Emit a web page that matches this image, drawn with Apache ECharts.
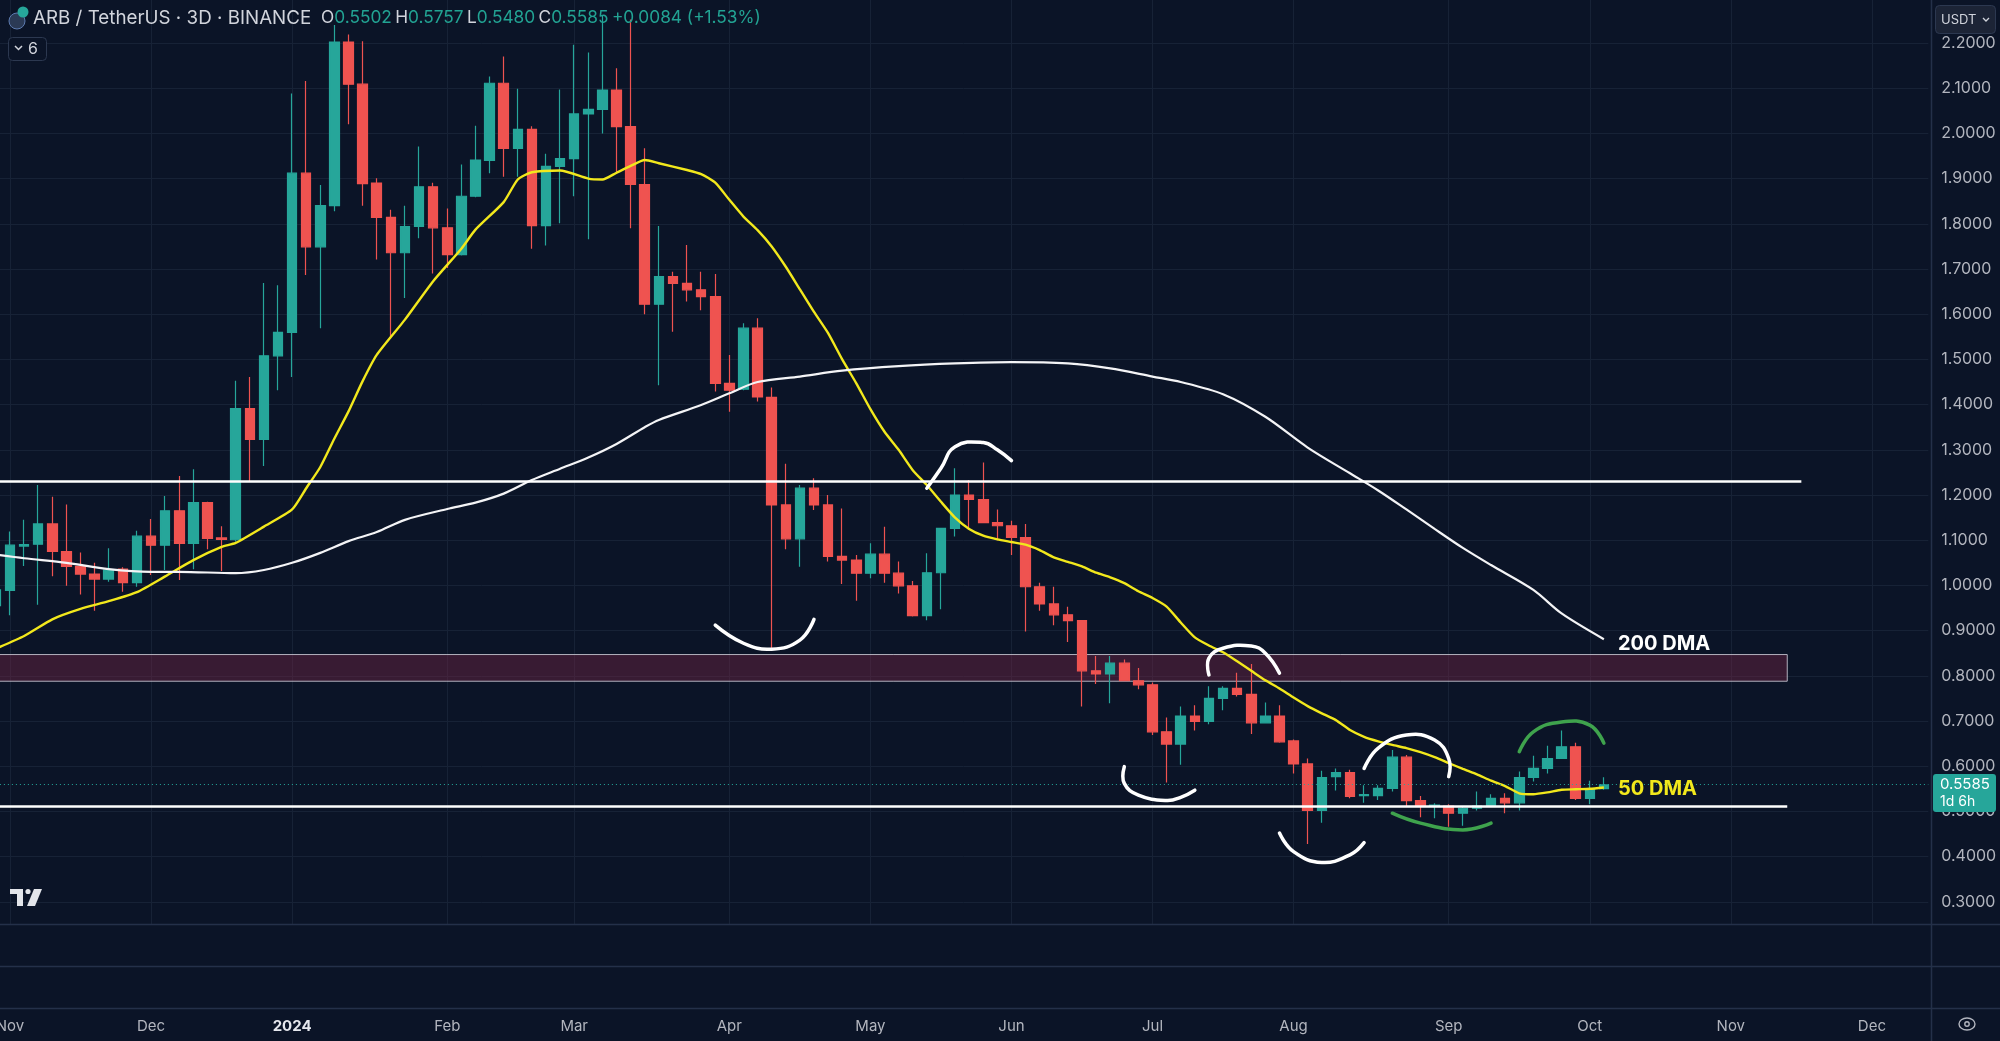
<!DOCTYPE html>
<html>
<head>
<meta charset="utf-8">
<title>ARB / TetherUS 3D</title>
<script src="https://cdn.jsdelivr.net/npm/echarts@6/dist/echarts.min.js"></script>
<style>
  html, body { margin: 0; padding: 0; background: #0b1427; }
  #main { width: 2000px; height: 1041px; }
</style>
</head>
<body>
<div id="main"></div>
<script>
// 3D candles, [open, close, low, high], first one opens 2023-10-30
const candles = [
  [0.955, 0.990, 0.940, 1.000], [0.989, 1.089, 0.934, 1.119], [1.087, 1.090, 1.043, 1.145], [1.091, 1.136, 0.957, 1.222],
  [1.136, 1.075, 1.020, 1.196], [1.075, 1.042, 0.999, 1.179], [1.042, 1.025, 0.980, 1.073], [1.025, 1.014, 0.944, 1.050],
  [1.014, 1.034, 1.008, 1.082], [1.036, 1.006, 0.986, 1.040], [1.006, 1.109, 0.997, 1.121], [1.109, 1.089, 1.023, 1.147],
  [1.089, 1.165, 1.034, 1.198], [1.165, 1.093, 1.012, 1.242], [1.093, 1.183, 1.036, 1.257], [1.183, 1.104, 1.080, 1.185],
  [1.105, 1.102, 1.032, 1.131], [1.101, 1.391, 1.097, 1.453], [1.391, 1.323, 1.230, 1.461], [1.323, 1.508, 1.264, 1.669],
  [1.508, 1.560, 1.432, 1.664], [1.560, 1.912, 1.461, 2.088], [1.912, 1.749, 1.687, 2.116], [1.749, 1.840, 1.569, 1.886],
  [1.840, 2.202, 1.828, 2.240], [2.202, 2.109, 2.020, 2.219], [2.109, 1.889, 1.840, 2.204], [1.890, 1.814, 1.721, 1.901],
  [1.814, 1.736, 1.546, 1.831], [1.736, 1.794, 1.636, 1.840], [1.794, 1.882, 1.768, 1.971], [1.882, 1.791, 1.690, 1.891],
  [1.791, 1.732, 1.702, 1.834], [1.732, 1.861, 1.730, 1.931], [1.861, 1.941, 1.859, 2.017], [1.940, 2.111, 1.912, 2.126],
  [2.111, 1.967, 1.904, 2.170], [1.967, 2.009, 1.904, 2.099], [2.009, 1.796, 1.745, 2.016], [1.796, 1.927, 1.752, 1.955],
  [1.927, 1.944, 1.801, 2.097], [1.944, 2.043, 1.861, 2.196], [2.043, 2.053, 1.766, 2.179], [2.053, 2.096, 2.000, 2.262],
  [2.096, 2.015, 1.910, 2.144], [2.015, 1.887, 1.790, 2.252], [1.887, 1.622, 1.600, 1.967], [1.622, 1.683, 1.443, 1.795],
  [1.683, 1.668, 1.561, 1.694], [1.668, 1.654, 1.628, 1.753], [1.654, 1.639, 1.609, 1.694], [1.639, 1.447, 1.429, 1.689],
  [1.447, 1.432, 1.384, 1.510], [1.434, 1.569, 1.432, 1.580], [1.569, 1.417, 1.407, 1.591], [1.416, 1.178, 0.859, 1.438],
  [1.178, 1.103, 1.080, 1.269], [1.103, 1.215, 1.041, 1.222], [1.215, 1.178, 1.167, 1.237], [1.178, 1.064, 1.053, 1.200],
  [1.064, 1.056, 1.003, 1.170], [1.056, 1.027, 0.966, 1.067], [1.027, 1.069, 1.016, 1.093], [1.069, 1.027, 1.006, 1.130],
  [1.027, 0.999, 0.982, 1.053], [0.999, 0.933, 0.931, 1.010], [0.933, 1.028, 0.923, 1.071], [1.028, 1.126, 0.947, 1.126],
  [1.126, 1.200, 1.108, 1.259], [1.200, 1.190, 1.123, 1.233], [1.190, 1.139, 1.139, 1.272], [1.139, 1.132, 1.100, 1.168],
  [1.132, 1.106, 1.067, 1.143], [1.106, 0.997, 0.898, 1.136], [0.997, 0.959, 0.944, 1.006], [0.959, 0.935, 0.912, 0.997],
  [0.935, 0.922, 0.875, 0.953], [0.922, 0.811, 0.732, 0.922], [0.811, 0.804, 0.782, 0.844], [0.804, 0.828, 0.739, 0.844],
  [0.828, 0.789, 0.789, 0.836], [0.789, 0.780, 0.770, 0.817], [0.780, 0.676, 0.669, 0.785], [0.676, 0.649, 0.564, 0.708],
  [0.649, 0.711, 0.603, 0.732], [0.711, 0.699, 0.679, 0.735], [0.699, 0.750, 0.693, 0.777], [0.750, 0.772, 0.724, 0.777],
  [0.772, 0.759, 0.754, 0.807], [0.759, 0.696, 0.671, 0.826], [0.696, 0.711, 0.696, 0.741], [0.711, 0.654, 0.652, 0.735],
  [0.656, 0.605, 0.584, 0.659], [0.605, 0.502, 0.428, 0.617], [0.502, 0.575, 0.475, 0.590], [0.577, 0.586, 0.546, 0.595],
  [0.586, 0.533, 0.529, 0.592], [0.535, 0.537, 0.519, 0.558], [0.535, 0.551, 0.525, 0.558], [0.551, 0.620, 0.544, 0.636],
  [0.620, 0.524, 0.512, 0.625], [0.524, 0.512, 0.487, 0.534], [0.512, 0.514, 0.485, 0.518], [0.512, 0.496, 0.466, 0.516],
  [0.496, 0.507, 0.468, 0.512], [0.507, 0.512, 0.502, 0.544], [0.512, 0.529, 0.512, 0.538], [0.529, 0.519, 0.496, 0.540],
  [0.519, 0.575, 0.502, 0.588], [0.575, 0.595, 0.566, 0.623], [0.595, 0.617, 0.584, 0.645], [0.617, 0.643, 0.617, 0.679],
  [0.643, 0.529, 0.525, 0.652], [0.529, 0.549, 0.516, 0.568], [0.5502, 0.5585, 0.5480, 0.5757]
];

// moving averages, [candle index, value]
const ma50 = [
  [0, 0.860], [2, 0.888], [4, 0.925], [6, 0.948], [8, 0.965], [10, 0.985], [12, 1.020], [14, 1.056], [16, 1.085],
  [17, 1.094], [19, 1.130], [21, 1.168], [22, 1.215], [23, 1.262], [24, 1.325], [25, 1.385], [26, 1.452], [27, 1.510],
  [29, 1.588], [31, 1.673], [33, 1.745], [34, 1.787], [36, 1.848], [37, 1.898], [38, 1.914], [40, 1.918], [42, 1.900],
  [43, 1.898], [44, 1.913], [45, 1.928], [46, 1.941], [47, 1.934], [49, 1.919], [50, 1.910], [51, 1.891], [52, 1.853],
  [53, 1.816], [54, 1.786], [55, 1.750], [56, 1.705], [57, 1.655], [58, 1.605], [59, 1.558], [60, 1.500], [61, 1.447],
  [62, 1.390], [63, 1.340], [64, 1.300], [65, 1.255], [66, 1.222], [67, 1.185], [68, 1.150], [69, 1.125], [70, 1.110],
  [71, 1.102], [72, 1.096], [73, 1.090], [74, 1.078], [75, 1.062], [76, 1.052], [77, 1.042], [78, 1.028], [79, 1.018],
  [80, 1.005], [81, 0.987], [82, 0.972], [83, 0.953], [84, 0.918], [85, 0.885], [86, 0.867], [87, 0.852], [88, 0.832],
  [89, 0.811], [90, 0.790], [91, 0.772], [92, 0.752], [93, 0.733], [94, 0.717], [95, 0.702], [96, 0.680], [97, 0.665],
  [98, 0.655], [99, 0.647], [100, 0.640], [101, 0.631], [102, 0.620], [103, 0.607], [104, 0.594], [105, 0.582],
  [106, 0.568], [107, 0.556], [108, 0.540], [109, 0.538], [110, 0.542], [111, 0.548], [112, 0.549], [113, 0.550], [114, 0.553]
];
const ma200 = [
  [0, 1.068], [2, 1.060], [5, 1.050], [8, 1.036], [11, 1.030], [13, 1.030], [17, 1.027], [19, 1.034], [21, 1.050],
  [23, 1.072], [25, 1.098], [27, 1.118], [29, 1.145], [32, 1.169], [34, 1.183], [36, 1.203], [38, 1.233], [40, 1.258],
  [42, 1.283], [44, 1.313], [46, 1.350], [47, 1.366], [50, 1.399], [52, 1.425], [54, 1.450], [57, 1.462], [60, 1.475],
  [64, 1.485], [68, 1.491], [72, 1.494], [76, 1.491], [79, 1.480], [82, 1.462], [84, 1.450], [87, 1.423], [90, 1.373],
  [93, 1.305], [96, 1.248], [98, 1.210], [100, 1.168], [102, 1.125], [104, 1.083], [106, 1.045], [109, 0.990],
  [111, 0.938], [114, 0.881]
];

// month ticks on the time scale: [candle index, label]
const monthTicks = [
  [1, 'Nov'], [11, 'Dec'], [21, '2024'], [32, 'Feb'], [41, 'Mar'], [52, 'Apr'], [62, 'May'],
  [72, 'Jun'], [82, 'Jul'], [92, 'Aug'], [103, 'Sep'], [113, 'Oct'], [123, 'Nov'], [133, 'Dec']
];

// drawn levels
const resistance = 1.231;
const support = 0.512;
const zoneTop = 0.847;
const zoneBottom = 0.788;
const lastPrice = 0.5585;

// hand drawn marks, points in [candle index, price]
const arcs = [
  { color: '#ffffff', pts: [[51.1, 0.912], [52.75, 0.872], [55.0, 0.859], [56.8, 0.879], [58.1, 0.925]] },
  { color: '#ffffff', pts: [[66.0, 1.215], [66.5, 1.259], [67.9, 1.307], [69.5, 1.316], [71.2, 1.300], [72.0, 1.276]] },
  { color: '#ffffff', pts: [[79.9, 0.599], [80.05, 0.562], [80.9, 0.536], [82.5, 0.524], [84.2, 0.531], [85.0, 0.547]] },
  { color: '#ffffff', pts: [[85.96, 0.802], [86.3, 0.839], [87.3, 0.861], [88.7, 0.866], [90.3, 0.850], [91.0, 0.806]] },
  { color: '#ffffff', pts: [[91.0, 0.452], [92.1, 0.411], [93.96, 0.387], [95.9, 0.404], [97.0, 0.431]] },
  { color: '#ffffff', pts: [[97.0, 0.595], [98.1, 0.640], [100.3, 0.669], [101.6, 0.658], [102.5, 0.617], [102.9, 0.577]] },
  { color: '#3fa34d', pts: [[99.2, 0.496], [100.9, 0.474], [103.5, 0.459], [106.0, 0.474]] },
  { color: '#3fa34d', pts: [[108.0, 0.632], [108.7, 0.676], [110.7, 0.698], [113.0, 0.691], [114.0, 0.651]] }
];

const categories = [];
const day0 = Date.UTC(2023, 9, 30);
for (let k = 0; k < 138; k++) {
  categories.push(new Date(day0 + k * 3 * 86400000).toISOString().slice(0, 10));
}
const tickMap = {};
monthTicks.forEach(function (t) { tickMap[t[0]] = t[1]; });
const isTick = function (idx) { return tickMap[idx] !== undefined; };

const bg = '#0b1427';
const gridColor = '#172236';
const sepColor = '#243049';
const textGrey = '#b2b5be';
const up = '#26a69a';
const down = '#ef5350';
const font = 'Inter, "Noto Sans", sans-serif';

const chart = echarts.init(document.getElementById('main'));

const option = {
  backgroundColor: bg,
  animation: false,
  textStyle: { fontFamily: font },
  grid: {
    left: -4.1,
    right: 71.7,
    top: -2.2,
    bottom: 94,
    containLabel: false,
    outerBoundsMode: 'none'
  },
  xAxis: {
    type: 'category',
    data: categories,
    boundaryGap: false,
    axisLine: { show: false },
    axisTick: { show: false },
    axisLabel: {
      interval: isTick,
      margin: 71.5,
      color: textGrey,
      fontSize: 15,
      fontFamily: font,
      formatter: function (val, idx) {
        const t = tickMap[idx];
        if (t === undefined) return '';
        return t === '2024' ? '{b|2024}' : t;
      },
      rich: { b: { fontWeight: 'bold', color: '#e6e8ee', fontSize: 15, fontFamily: font } }
    },
    splitLine: { show: true, interval: isTick, lineStyle: { color: gridColor, width: 1 } }
  },
  yAxis: {
    type: 'value',
    position: 'right',
    min: 0.2,
    max: 2.3,
    interval: 0.1,
    axisLine: { show: false },
    axisTick: { show: false },
    axisLabel: {
      margin: 13,
      color: textGrey,
      fontSize: 16,
      fontFamily: font,
      formatter: function (v) { return (v < 0.25 || v > 2.25) ? '' : v.toFixed(4); }
    },
    splitLine: { lineStyle: { color: gridColor, width: 1 } }
  },
  series: [
    {
      name: 'ARB/USDT',
      type: 'candlestick',
      data: candles,
      barWidth: 10,
      z: 3,
      itemStyle: { color: up, color0: down, borderColor: up, borderColor0: down, borderWidth: 1.2 },
      markArea: {
        silent: true,
        z: 1,
        itemStyle: { color: 'rgba(120, 38, 70, 0.42)', borderColor: 'rgba(205, 205, 215, 0.85)', borderWidth: 1 },
        data: [[{ coord: [0, zoneTop] }, { coord: [127, zoneBottom] }]]
      },
      markLine: {
        silent: true,
        symbol: ['none', 'none'],
        label: { show: false },
        data: [
          [{ coord: [0, resistance], lineStyle: { color: '#ffffff', width: 2.5, type: 'solid' } }, { coord: [128, resistance] }],
          [{ coord: [0, support], lineStyle: { color: '#ffffff', width: 2.5, type: 'solid' } }, { coord: [127, support] }],
          { yAxis: lastPrice, lineStyle: { color: up, width: 1, type: [1, 3] } }
        ]
      }
    },
    {
      name: '50 DMA',
      type: 'line',
      data: ma50,
      showSymbol: false,
      smooth: 0.2,
      silent: true,
      z: 4,
      lineStyle: { color: '#f2e81c', width: 2.4 }
    },
    {
      name: '200 DMA',
      type: 'line',
      data: ma200,
      showSymbol: false,
      smooth: 0.3,
      silent: true,
      z: 4,
      lineStyle: { color: '#f4f4f6', width: 2.2 }
    }
  ]
};

chart.setOption(option);

// overlay: panes, header, badges and the hand drawn marks
const g = [];
g.push({ type: 'rect', z: 50, shape: { x: 0, y: 925, width: 2000, height: 82 }, style: { fill: bg } });
[924.5, 966.5, 1008.5].forEach(function (y) {
  g.push({ type: 'line', z: 51, shape: { x1: 0, y1: y, x2: 2000, y2: y }, style: { stroke: sepColor, lineWidth: 1.5 } });
});
g.push({ type: 'line', z: 51, shape: { x1: 1931.5, y1: 0, x2: 1931.5, y2: 1041 }, style: { stroke: sepColor, lineWidth: 1.5 } });

// header
g.push({ type: 'circle', z: 60, shape: { cx: 17, cy: 21, r: 8 }, style: { fill: '#2b3a55', stroke: '#5d7bb0', lineWidth: 1 } });
g.push({ type: 'circle', z: 61, shape: { cx: 23, cy: 12, r: 5.5 }, style: { fill: '#26a69a' } });
g.push({
  type: 'text', z: 60, x: 33, y: 18,
  style: { text: 'ARB / TetherUS · 3D · BINANCE', fill: '#d1d4dc', font: '18.8px ' + font, verticalAlign: 'middle' }
});
g.push({
  type: 'text', z: 60, x: 321, y: 18,
  style: {
    text: '{l|O}{v|0.5502} {l|H}{v|0.5757} {l|L}{v|0.5480} {l|C}{v|0.5585} {v|+0.0084 (+1.53%)}',
    verticalAlign: 'middle',
    rich: {
      l: { fill: '#d1d4dc', font: '17.3px ' + font },
      v: { fill: '#22a393', font: '17.3px ' + font }
    }
  }
});
g.push({ type: 'rect', z: 60, shape: { x: 8.5, y: 37.5, width: 38, height: 23, r: 4 }, style: { fill: bg, stroke: '#2c3850', lineWidth: 1 } });
g.push({ type: 'polyline', z: 61, shape: { points: [[15, 46], [18.5, 49.5], [22, 46]] }, style: { stroke: '#d1d4dc', lineWidth: 1.5, fill: null } });
g.push({ type: 'text', z: 61, x: 28, y: 49, style: { text: '6', fill: '#d1d4dc', font: '16px ' + font, verticalAlign: 'middle' } });

// currency button
g.push({ type: 'rect', z: 60, shape: { x: 1935.5, y: 5.5, width: 60, height: 28, r: 4 }, style: { fill: '#1c2436', stroke: '#2c3850', lineWidth: 1 } });
g.push({ type: 'text', z: 61, x: 1941, y: 20, style: { text: 'USDT', fill: '#d1d4dc', font: '13px ' + font, verticalAlign: 'middle' } });
g.push({ type: 'polyline', z: 61, shape: { points: [[1983, 18], [1986, 21], [1989, 18]] }, style: { stroke: '#d1d4dc', lineWidth: 1.3, fill: null } });

// last price badge
g.push({ type: 'rect', z: 60, shape: { x: 1933, y: 774, width: 63, height: 38, r: 3 }, style: { fill: '#26a69a' } });
g.push({ type: 'text', z: 61, x: 1940, y: 784, style: { text: lastPrice.toFixed(4), fill: '#ffffff', font: '15px ' + font, verticalAlign: 'middle' } });
g.push({ type: 'text', z: 61, x: 1940, y: 802, style: { text: '1d 6h', fill: '#ffffff', font: '14px ' + font, verticalAlign: 'middle' } });

// TradingView mark
g.push({ type: 'rect', z: 60, shape: { x: 10, y: 889, width: 13, height: 5 }, style: { fill: '#e3e5ea' } });
g.push({ type: 'rect', z: 60, shape: { x: 17, y: 889, width: 6, height: 17 }, style: { fill: '#e3e5ea' } });
g.push({ type: 'circle', z: 60, shape: { cx: 28, cy: 891.5, r: 2.6 }, style: { fill: '#e3e5ea' } });
g.push({ type: 'polygon', z: 60, shape: { points: [[34, 889], [42, 889], [35, 906], [27, 906]] }, style: { fill: '#e3e5ea' } });

// settings icon
g.push({ type: 'ellipse', z: 60, shape: { cx: 1967, cy: 1024, rx: 8, ry: 6 }, style: { stroke: textGrey, fill: null, lineWidth: 1.4 } });
g.push({ type: 'circle', z: 60, shape: { cx: 1967, cy: 1024, r: 2.2 }, style: { stroke: textGrey, fill: null, lineWidth: 1.4 } });

// hand drawn arcs
arcs.forEach(function (a) {
  const p = a.pts.map(function (q) { return chart.convertToPixel({ seriesIndex: 0 }, q); });
  g.push({
    type: 'polyline', z: 40,
    shape: { points: p, smooth: 0.45 },
    style: { stroke: a.color, lineWidth: 3.5, fill: null, lineCap: 'round', lineJoin: 'round' }
  });
});

// line labels
[['200 DMA', [115.05, 0.870], '#ffffff'], ['50 DMA', [115.05, 0.549], '#f2e81c']].forEach(function (t) {
  const p = chart.convertToPixel({ seriesIndex: 0 }, t[1]);
  g.push({
    type: 'text', z: 45, x: p[0], y: p[1],
    style: { text: t[0], fill: t[2], font: 'bold 20px ' + font, verticalAlign: 'middle' }
  });
});

chart.setOption({ graphic: g });

window.addEventListener('resize', function () {
  chart.resize();
});
</script>
</body>
</html>
